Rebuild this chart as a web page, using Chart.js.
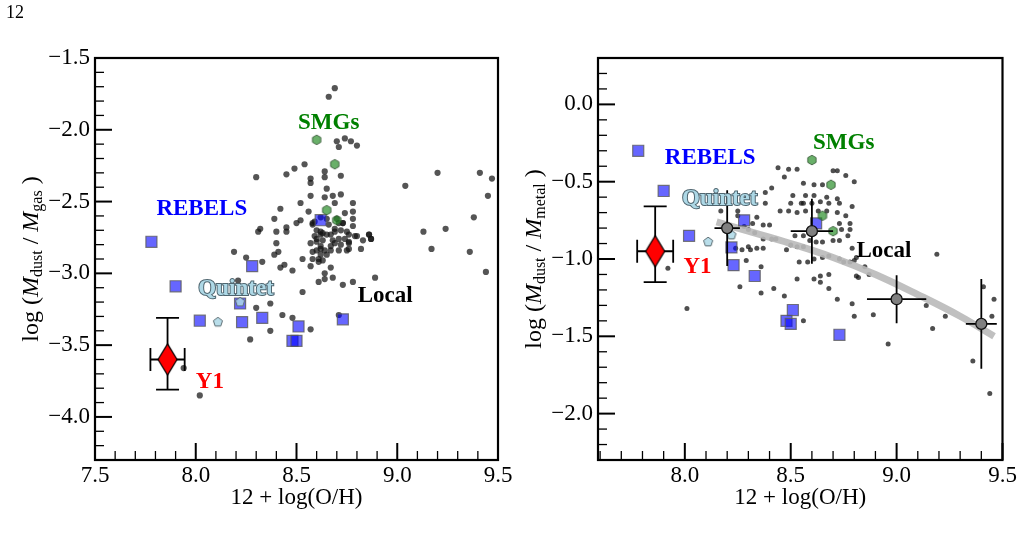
<!DOCTYPE html>
<html>
<head>
<meta charset="utf-8">
<title>Dust-to-gas and dust-to-metal ratios vs metallicity</title>
<script src="https://cdn.jsdelivr.net/npm/chart.js@4.4.1/dist/chart.umd.min.js"></script>
<style>
  html, body { margin: 0; padding: 0; background: #fff; }
  body { width: 1023px; height: 542px; position: relative; overflow: hidden; font-family: "Liberation Serif", serif; }
  #page-no { position: absolute; left: 6px; top: 3px; font-size: 18px; line-height: 1; z-index: 2; }
  .panel { position: absolute; top: 0; }
  #left-panel { left: 0; }
  #right-panel { left: 515px; }
</style>
</head>
<body>
<div id="page-no">12</div>
<div class="panel" id="left-panel"><canvas id="chart-gas" width="515" height="542"></canvas></div>
<div class="panel" id="right-panel"><canvas id="chart-metal" width="508" height="542"></canvas></div>
<script>
// tick labels
const gasTicksX = [7.5, 8.0, 8.5, 9.0, 9.5];
const gasTicksY = [-1.5, -2.0, -2.5, -3.0, -3.5, -4.0];
const metalTicksX = [8.0, 8.5, 9.0, 9.5];
const metalTicksY = [0.0, -0.5, -1.0, -1.5, -2.0];

// local galaxies, dust-to-gas panel
const localGasOH = [
  8.69, 8.66, 8.70, 8.74, 8.77, 8.80, 8.71, 8.30, 8.45, 8.49, 8.54, 8.64, 8.64, 8.72, 8.57, 8.57,
  9.04, 9.20, 9.41, 9.47, 9.45, 9.38, 9.13, 9.24, 9.17, 9.36, 9.44,
  8.65, 8.57, 8.64, 8.68, 8.72, 8.69, 8.78, 8.52, 8.42, 8.56, 8.74, 8.78, 8.52, 8.39, 8.32, 8.31,
  8.40, 8.45, 8.45, 8.50, 8.59, 8.78, 8.78, 8.71, 8.86, 8.87, 8.80, 8.82, 8.76, 8.71, 8.40, 8.41,
  8.39, 8.44, 8.42, 8.48, 8.53, 8.58, 8.61, 8.57, 8.67, 8.64, 8.61, 8.64, 8.68, 8.73, 8.78, 8.89,
  8.53, 8.30, 8.37, 8.43, 8.48, 8.57, 8.37, 8.27, 8.19, 8.25, 8.33, 8.21, 8.71, 7.94, 8.02,
  8.58, 8.60, 8.62, 8.63, 8.66, 8.67, 8.69, 8.71, 8.73, 8.74, 8.76, 8.60, 8.62, 8.64, 8.60, 8.62,
  8.65, 8.59, 8.63, 8.67, 8.69, 8.72, 8.75, 8.57, 8.61, 8.63, 8.76, 8.65, 8.62, 8.70,
  8.58, 8.62, 8.60, 8.65, 8.69, 8.73, 8.75, 8.79, 8.68, 8.72, 8.76, 8.83, 8.86, 8.87, 8.62, 8.67, 8.58
];
const localGasRatio = [
  -1.71, -1.77, -2.08, -2.06, -2.08, -2.11, -2.12, -2.33, -2.31, -2.27, -2.24, -2.29, -2.33, -2.32, -2.34, -2.37,
  -2.39, -2.30, -2.30, -2.34, -2.46, -2.61, -2.71, -2.69, -2.83, -2.85, -2.99,
  -2.41, -2.46, -2.47, -2.46, -2.45, -2.51, -2.51, -2.51, -2.55, -2.57, -2.58, -2.57, -2.63, -2.62, -2.69, -2.71,
  -2.71, -2.68, -2.71, -2.65, -2.64, -2.62, -2.67, -2.65, -2.73, -2.76, -2.74, -2.83, -2.83, -2.84, -2.79, -2.85,
  -2.87, -2.94, -2.96, -2.98, -2.90, -2.90, -2.92, -2.95, -2.96, -3.00, -3.06, -3.04, -3.03, -3.08, -3.06, -3.03,
  -3.13, -3.24, -3.21, -3.29, -3.31, -3.39, -3.40, -3.46, -2.85, -2.89, -2.92, -3.05, -3.29, -3.66, -3.85,
  -2.66, -2.70, -2.73, -2.72, -2.66, -2.73, -2.79, -2.76, -2.65, -2.76, -2.79, -2.78, -2.81, -2.84, -2.84, -2.87,
  -2.87, -2.74, -2.77, -2.81, -2.71, -2.70, -2.84, -2.79, -2.90, -2.91, -2.73, -2.62, -2.61, -2.62,
  -2.65, -2.71, -2.76, -2.73, -2.69, -2.65, -2.71, -2.74, -2.77, -2.80, -2.78, -2.77, -2.73, -2.76, -2.83, -2.84, -2.85
];

// local galaxies, dust-to-metal panel
const localMetalOH = [
  8.44, 8.49, 8.53, 8.47, 8.41, 8.38, 8.56, 8.61, 8.65, 8.70, 8.72, 8.76, 8.80, 8.51, 8.55, 8.57,
  8.61, 8.67, 8.72, 8.50, 8.56, 8.60, 8.64, 8.68, 8.73, 8.79, 8.38, 8.45, 8.49, 8.53, 8.57, 8.63,
  8.67, 8.72, 8.76, 8.78, 8.73, 8.74, 8.78, 8.77, 8.73, 8.70, 8.65, 8.62, 8.59, 8.56, 8.52, 8.50,
  8.53, 8.56, 8.48, 8.37, 8.40, 8.34, 8.32, 8.30, 8.33, 8.37, 8.41, 8.43, 8.30, 8.31, 8.34, 8.37,
  8.25, 8.25, 8.28, 8.17, 8.29, 8.54, 8.58, 8.61, 8.65, 8.68, 8.73, 8.75, 8.78, 8.80, 8.81, 8.85,
  8.87, 8.81, 8.82, 8.61, 8.64, 8.68, 8.64, 8.53, 8.68, 8.72, 8.79, 8.80, 8.89, 8.96, 9.19, 9.14,
  9.23, 9.17, 9.41, 9.46, 9.45, 9.36, 9.44, 8.26, 8.36, 8.42, 8.47, 8.56, 8.36, 7.92, 8.01, 8.24,
  8.27, 8.79
];
const localMetalRatio = [
  -0.41, -0.42, -0.42, -0.47, -0.54, -0.57, -0.51, -0.52, -0.52, -0.43, -0.43, -0.46, -0.50, -0.59, -0.64, -0.59,
  -0.59, -0.60, -0.61, -0.64, -0.64, -0.64, -0.63, -0.64, -0.64, -0.66, -0.64, -0.69, -0.69, -0.70, -0.69, -0.69,
  -0.69, -0.70, -0.72, -0.77, -0.77, -0.81, -0.81, -0.85, -0.88, -0.88, -0.89, -0.89, -0.88, -0.85, -0.85, -0.91,
  -0.92, -0.92, -0.94, -0.78, -0.78, -0.73, -0.77, -0.81, -0.83, -0.87, -0.87, -0.87, -0.92, -0.94, -0.93, -0.93,
  -0.69, -0.72, -0.79, -0.69, -1.01, -1.02, -1.02, -1.00, -0.99, -0.98, -1.00, -1.02, -1.02, -1.01, -0.99, -1.05,
  -1.10, -1.11, -1.12, -1.13, -1.11, -1.10, -1.15, -1.13, -1.19, -1.26, -1.29, -1.37, -1.36, -1.55, -0.97, -1.30,
  -1.37, -1.45, -1.18, -1.26, -1.37, -1.66, -1.87, -1.18, -1.22, -1.19, -1.24, -1.40, -1.05, -1.06, -1.32, -0.93,
  -0.94, -0.93
];

// REBELS (same galaxies in both panels)
const rebelsOH = [7.78, 7.90, 8.02, 8.22, 8.23, 8.33, 8.28, 8.62, 8.51, 8.48, 8.50, 8.73];
const rebelsGasRatio = [-2.78, -3.09, -3.33, -3.21, -3.34, -3.31, -2.95, -2.63, -3.37, -3.47, -3.47, -3.32];
const rebelsMetalRatio = [-0.30, -0.56, -0.85, -0.925, -1.04, -1.11, -0.75, -0.77, -1.33, -1.40, -1.42, -1.49];

// Stephan's Quintet
const quintetOH = [8.11, 8.22];
const quintetGasRatio = [-3.34, -3.20];
const quintetMetalRatio = [-0.89, -0.845];

// SMGs
const smgOH = [8.60, 8.69, 8.65, 8.70];
const smgGasRatio = [-2.07, -2.24, -2.56, -2.63];
const smgMetalRatio = [-0.36, -0.52, -0.72, -0.82];

// Y1 with errors
const y1OH = [7.86];
const y1OHErr = [0.085];
const y1GasRatio = [-3.60];
const y1GasErrUp = [0.29];
const y1GasErrDn = [0.21];
const y1MetalRatio = [-0.95];
const y1MetalErrUp = [0.29];
const y1MetalErrDn = [0.20];

// binned local sample and trend (right panel)
const binOH = [8.20, 8.60, 9.00, 9.40];
const binOHErr = [0.06, 0.10, 0.14, 0.073];
const binMetalRatio = [-0.80, -0.82, -1.26, -1.42];
const binMetalErr = [0.245, 0.21, 0.155, 0.29];
const fitOH = [8.15, 8.30, 8.50, 8.70, 8.90, 9.10, 9.30, 9.46];
const fitMetalRatio = [-0.76, -0.82, -0.90, -0.99, -1.10, -1.23, -1.37, -1.50];

const SERIF = '"Liberation Serif", "Times New Roman", serif';
Chart.defaults.font.family = SERIF;
Chart.defaults.color = '#000';
const pts = (xs, ys) => xs.map((x, i) => ({ x, y: ys[i] }));
const fmt = v => (v < 0 ? '\u2212' : '') + Math.abs(v).toFixed(1);

// small marker images for shapes Chart.js does not have
function polygonMarker(sides, radius, fill, stroke, stretch = 1, lw = 1) {
  const pad = 2;
  const w = Math.ceil(radius * 2 + pad * 2);
  const h = Math.ceil(radius * 2 * stretch + pad * 2);
  const c = document.createElement('canvas');
  c.width = w; c.height = h;
  const g = c.getContext('2d');
  g.translate(w / 2, h / 2);
  g.beginPath();
  for (let i = 0; i < sides; i++) {
    const a = -Math.PI / 2 + i * 2 * Math.PI / sides;
    const px = Math.cos(a) * radius, py = Math.sin(a) * radius * stretch;
    if (i) g.lineTo(px, py); else g.moveTo(px, py);
  }
  g.closePath();
  g.fillStyle = fill; g.fill();
  g.lineWidth = lw; g.strokeStyle = stroke; g.stroke();
  return c;
}
const pentagon = polygonMarker(5, 4.8, 'rgba(173,216,230,0.85)', '#5a6a70');
const hexagon = polygonMarker(6, 4.8, 'rgba(34,139,34,0.68)', 'rgba(50,80,50,0.8)');
const diamond = polygonMarker(4, 9.5, '#ff0000', '#000', 1.65, 1.2);

function makePanel(id, o) {
  const frameTicks = {
    id: 'frameTicks',
    afterDraw(chart) {
      const { ctx, chartArea: a } = chart;
      const sx = chart.scales.x, sy = chart.scales.y;
      ctx.save();
      ctx.strokeStyle = '#000';
      const isMajor = (v, list) => list.some(t => Math.abs(t - v) < 1e-6);
      for (let k = Math.ceil(sx.min * 10 - 1e-6); k <= Math.floor(sx.max * 10 + 1e-6); k++) {
        const v = k / 10, major = isMajor(v, o.xTicks);
        const p = sx.getPixelForValue(v);
        ctx.lineWidth = major ? 2 : 1.3;
        ctx.beginPath(); ctx.moveTo(p, a.bottom); ctx.lineTo(p, a.bottom - (major ? 17 : 9)); ctx.stroke();
      }
      for (let k = Math.ceil(sy.min * 10 - 1e-6); k <= Math.floor(sy.max * 10 + 1e-6); k++) {
        const v = k / 10, major = isMajor(v, o.yTicks);
        const p = sy.getPixelForValue(v);
        ctx.lineWidth = major ? 2 : 1.3;
        ctx.beginPath(); ctx.moveTo(a.left, p); ctx.lineTo(a.left + (major ? 17 : 9), p); ctx.stroke();
      }
      ctx.lineWidth = 2.2;
      ctx.strokeRect(a.left, a.top, a.right - a.left, a.bottom - a.top);
      ctx.restore();
    }
  };

  const errorBars = {
    id: 'errorBars',
    beforeDatasetDraw(chart, args) {
      const ds = chart.data.datasets[args.index];
      if (!ds.errX) return;
      const { ctx } = chart;
      const sx = chart.scales.x, sy = chart.scales.y;
      ctx.save();
      ctx.strokeStyle = '#000';
      ctx.lineWidth = 1.8;
      ds.data.forEach((p, i) => {
        const cx = sx.getPixelForValue(p.x), cy = sy.getPixelForValue(p.y);
        const x0 = sx.getPixelForValue(p.x - ds.errX[i]), x1 = sx.getPixelForValue(p.x + ds.errX[i]);
        const y0 = sy.getPixelForValue(p.y + ds.errYUp[i]), y1 = sy.getPixelForValue(p.y - ds.errYDn[i]);
        const c = ds.capHalf || 0;
        ctx.beginPath();
        ctx.moveTo(x0, cy); ctx.lineTo(x1, cy);
        ctx.moveTo(cx, y0); ctx.lineTo(cx, y1);
        if (c) {
          ctx.moveTo(x0, cy - c); ctx.lineTo(x0, cy + c);
          ctx.moveTo(x1, cy - c); ctx.lineTo(x1, cy + c);
          ctx.moveTo(cx - c, y0); ctx.lineTo(cx + c, y0);
          ctx.moveTo(cx - c, y1); ctx.lineTo(cx + c, y1);
        }
        ctx.stroke();
      });
      ctx.restore();
    }
  };

  const groupLabels = {
    id: 'groupLabels',
    afterDatasetsDraw(chart) {
      const { ctx } = chart;
      const sx = chart.scales.x, sy = chart.scales.y;
      ctx.save();
      ctx.font = `bold 23px ${SERIF}`;
      ctx.textAlign = 'center';
      ctx.textBaseline = 'middle';
      o.labels.forEach(l => {
        const px = sx.getPixelForValue(l.x), py = sy.getPixelForValue(l.y);
        if (l.outline) {
          ctx.lineWidth = 2;
          ctx.strokeStyle = l.outline;
          ctx.strokeText(l.text, px, py);
        }
        ctx.fillStyle = l.color;
        ctx.fillText(l.text, px, py);
      });
      ctx.restore();
    }
  };

  // y title with italic M and subscripts
  const yTitle = {
    id: 'yTitle',
    afterDraw(chart) {
      const { ctx, chartArea: a } = chart;
      const fontFor = p => `${p.italic ? 'italic ' : ''}${p.sub ? 16 : 24}px ${SERIF}`;
      ctx.save();
      ctx.translate(o.titleX, (a.top + a.bottom) / 2);
      ctx.rotate(-Math.PI / 2);
      ctx.fillStyle = '#000';
      ctx.textBaseline = 'middle';
      ctx.textAlign = 'left';
      const widths = o.yTitle.map(p => { ctx.font = fontFor(p); return ctx.measureText(p.t).width; });
      let x = -widths.reduce((s, w) => s + w, 0) / 2;
      o.yTitle.forEach((p, i) => {
        ctx.font = fontFor(p);
        ctx.fillText(p.t, x, p.sub ? 6 : 0);
        x += widths[i];
      });
      ctx.restore();
    }
  };

  return new Chart(document.getElementById(id), {
    type: 'scatter',
    data: { datasets: o.datasets },
    options: {
      responsive: false,
      animation: false,
      events: [],
      layout: { padding: { top: 58, right: o.padRight, bottom: 0, left: 0 } },
      plugins: { legend: { display: false }, tooltip: { enabled: false } },
      scales: {
        x: {
          type: 'linear', min: o.xMin, max: o.xMax,
          grid: { display: false, drawTicks: false }, border: { display: false },
          afterBuildTicks: s => { s.ticks = o.xTicks.map(v => ({ value: v })); },
          afterFit: s => { s.height = 82; },
          ticks: { font: { family: SERIF, size: 23 }, color: '#000', padding: 2, maxRotation: 0, autoSkip: false, callback: fmt },
          title: { display: true, text: '12 + log(O/H)', color: '#000', font: { family: SERIF, size: 23 }, padding: { top: 0, bottom: 30 } }
        },
        y: {
          type: 'linear', min: o.yMin, max: o.yMax,
          grid: { display: false, drawTicks: false }, border: { display: false },
          afterBuildTicks: s => { s.ticks = o.yTicks.map(v => ({ value: v })); },
          afterFit: s => { s.width = o.yAxisWidth; },
          ticks: { font: { family: SERIF, size: 23 }, color: '#000', padding: 5, autoSkip: false, callback: fmt }
        }
      }
    },
    plugins: [errorBars, groupLabels, yTitle, frameTicks]
  });
}

const rebelsStyle = {
  pointStyle: 'rect', pointRadius: 7.8,
  pointBackgroundColor: 'rgba(0,0,255,0.6)', pointBorderColor: 'rgba(90,90,90,0.8)', pointBorderWidth: 1.2
};

makePanel('chart-gas', {
  xMin: 7.5, xMax: 9.5, yMin: -4.3, yMax: -1.5,
  xTicks: gasTicksX, yTicks: gasTicksY,
  padRight: 17, yAxisWidth: 95, titleX: 32,
  yTitle: [
    { t: 'log (' }, { t: 'M', italic: true }, { t: 'dust', sub: true }, { t: ' / ' },
    { t: 'M', italic: true }, { t: 'gas', sub: true }, { t: ' )' }
  ],
  labels: [
    { text: 'SMGs', x: 8.66, y: -1.95, color: '#008000' },
    { text: 'REBELS', x: 8.03, y: -2.55, color: '#0000ff' },
    { text: 'Quintet', x: 8.20, y: -3.11, color: '#add8e6', outline: '#4f6670' },
    { text: 'Local', x: 8.94, y: -3.16, color: '#000' },
    { text: 'Y1', x: 8.07, y: -3.76, color: '#ff0000' }
  ],
  datasets: [
    { label: 'Local', data: pts(localGasOH, localGasRatio), pointRadius: 3.1,
      pointBackgroundColor: 'rgba(20,20,20,0.72)', pointBorderWidth: 0, order: 6 },
    Object.assign({ label: 'REBELS', data: pts(rebelsOH, rebelsGasRatio), order: 5 }, rebelsStyle),
    { label: 'Quintet', data: pts(quintetOH, quintetGasRatio), pointStyle: pentagon, pointRadius: 4, order: 4 },
    { label: 'SMGs', data: pts(smgOH, smgGasRatio), pointStyle: hexagon, pointRadius: 4, order: 3 },
    { label: 'Y1', data: pts(y1OH, y1GasRatio), pointStyle: diamond, pointRadius: 9, order: 1,
      errX: y1OHErr, errYUp: y1GasErrUp, errYDn: y1GasErrDn, capHalf: 11.5 }
  ]
});

makePanel('chart-metal', {
  xMin: 7.59, xMax: 9.5, yMin: -2.3, yMax: 0.3,
  xTicks: metalTicksX, yTicks: metalTicksY,
  padRight: 20.5, yAxisWidth: 83, titleX: 20,
  yTitle: [
    { t: 'log (' }, { t: 'M', italic: true }, { t: 'dust', sub: true }, { t: ' / ' },
    { t: 'M', italic: true }, { t: 'metal', sub: true }, { t: ' )' }
  ],
  labels: [
    { text: 'SMGs', x: 8.75, y: -0.25, color: '#008000' },
    { text: 'REBELS', x: 8.12, y: -0.35, color: '#0000ff' },
    { text: 'Quintet', x: 8.165, y: -0.61, color: '#add8e6', outline: '#4f6670' },
    { text: 'Local', x: 8.94, y: -0.95, color: '#000' },
    { text: 'Y1', x: 8.06, y: -1.05, color: '#ff0000' }
  ],
  datasets: [
    { label: 'Local', data: pts(localMetalOH, localMetalRatio), pointRadius: 2.5,
      pointBackgroundColor: 'rgba(20,20,20,0.75)', pointBorderWidth: 0, order: 8 },
    { label: 'Trend', type: 'line', data: pts(fitOH, fitMetalRatio), showLine: true, tension: 0.4,
      borderColor: 'rgba(185,185,185,0.9)', borderWidth: 7, pointRadius: 0, borderCapStyle: 'butt', order: 7 },
    Object.assign({ label: 'REBELS', data: pts(rebelsOH, rebelsMetalRatio), order: 6 }, rebelsStyle),
    { label: 'Quintet', data: pts(quintetOH, quintetMetalRatio), pointStyle: pentagon, pointRadius: 4, order: 5 },
    { label: 'SMGs', data: pts(smgOH, smgMetalRatio), pointStyle: hexagon, pointRadius: 4, order: 4 },
    { label: 'Binned', data: pts(binOH, binMetalRatio), pointRadius: 5.5,
      pointBackgroundColor: '#808080', pointBorderColor: '#111', pointBorderWidth: 1.3, order: 3,
      errX: binOHErr, errYUp: binMetalErr, errYDn: binMetalErr },
    { label: 'Y1', data: pts(y1OH, y1MetalRatio), pointStyle: diamond, pointRadius: 9, order: 1,
      errX: y1OHErr, errYUp: y1MetalErrUp, errYDn: y1MetalErrDn, capHalf: 11.5 }
  ]
});
</script>
</body>
</html>
